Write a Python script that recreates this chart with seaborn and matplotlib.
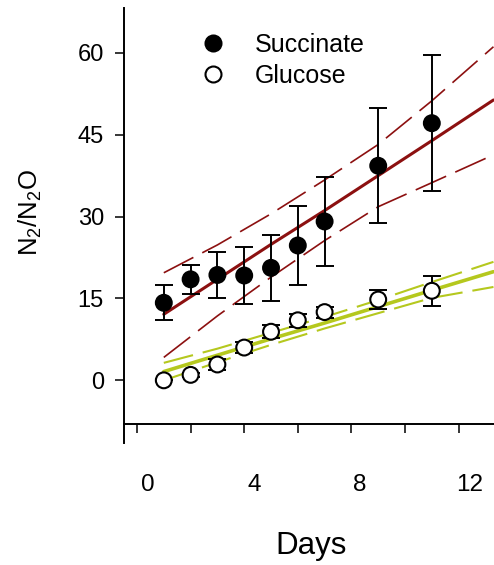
import numpy as np
import pandas as pd
import matplotlib
matplotlib.use("Agg")
import matplotlib.pyplot as plt
from matplotlib.lines import Line2D
import seaborn as sns

# ---- data ----
days = [1, 2, 3, 4, 5, 6, 7, 9, 11]
succinate = [14.2, 18.5, 19.3, 19.2, 20.6, 24.7, 29.1, 39.3, 47.1]
succinate_err = [3.2, 2.7, 4.2, 5.3, 6.1, 7.3, 8.2, 10.5, 12.4]
glucose = [0.0, 1.0, 2.9, 6.0, 8.9, 11.0, 12.5, 14.8, 16.4]
glucose_err = [0.0, 0.3, 1.0, 1.0, 1.2, 1.2, 1.0, 1.8, 2.8]

fit_days = [1, 3, 5, 7, 9, 11, 13.3]
succ_fit = [12.1, 18.5, 24.9, 31.1, 37.5, 43.9, 51.35]
succ_upper = [19.7, 24.8, 30.5, 36.7, 43.2, 51.2, 61.1]
succ_lower = [4.2, 11.8, 18.9, 25.6, 31.8, 36.2, 41.3]
gluc_fit = [1.6, 4.6, 7.6, 10.5, 13.5, 16.5, 19.9]
gluc_upper = [3.2, 5.8, 8.7, 11.6, 14.7, 18.0, 21.7]
gluc_lower = [0.0, 3.3, 6.5, 9.5, 12.3, 15.1, 17.1]

series_labels = ["Succinate", "Glucose"]
y_ticks = [0, 15, 30, 45, 60]
x_major_ticks = [0, 2, 4, 6, 8, 10, 12]
x_tick_labels = ["0", "4", "8", "12"]
x_label_pos = [0.41, 4.36, 8.31, 12.41]

RED = "#8c1010"
GREEN = "#b5c81e"

sns.set_theme(style="white")
plt.rcParams["font.family"] = ["Liberation Sans", "DejaVu Sans"]
plt.rcParams["mathtext.fontset"] = "custom"
plt.rcParams["mathtext.rm"] = "Liberation Sans"
for k in ["text.color", "axes.labelcolor", "xtick.color", "ytick.color", "axes.edgecolor"]:
    plt.rcParams[k] = "black"

W, H = 494, 565
fig = plt.figure(figsize=(W / 100, H / 100), dpi=100)
ax = fig.add_axes([124 / W, 1 - 424 / H, 370 / W, 416 / H])
ax.set_facecolor("white")

# regression lines and bands
fits = pd.DataFrame({"day": fit_days, "succ": succ_fit, "su": succ_upper, "sl": succ_lower,
                     "gluc": gluc_fit, "gu": gluc_upper, "gl": gluc_lower})
for col, color, lw in [("succ", RED, 2.2), ("gluc", GREEN, 2.6)]:
    sns.lineplot(data=fits, x="day", y=col, color=color, lw=lw, ax=ax, zorder=2)
for col, color, lw, dash in [("su", RED, 1.2, (20, 6)), ("sl", RED, 1.2, (20, 6)),
                             ("gu", GREEN, 1.5, (14.5, 4.8)), ("gl", GREEN, 1.5, (14.5, 4.8))]:
    sns.lineplot(data=fits, x="day", y=col, color=color, lw=lw, ax=ax, zorder=2)
    ax.lines[-1].set_dashes(dash)

# error bars
ax.errorbar(days, succinate, yerr=succinate_err, fmt="none", ecolor="black",
            elinewidth=1.4, capsize=6.8, capthick=1.4, zorder=3)
ax.errorbar(days, glucose, yerr=glucose_err, fmt="none", ecolor="black",
            elinewidth=1.4, capsize=6.8, capthick=1.4, zorder=3)

pts = pd.DataFrame({"day": days * 2, "ratio": succinate + glucose,
                    "substrate": [series_labels[0]] * len(days) + [series_labels[1]] * len(days)})
sns.scatterplot(data=pts, x="day", y="ratio", hue="substrate",
                palette={series_labels[0]: "black", series_labels[1]: "white"},
                edgecolor="black", linewidth=1.5, s=130, legend=False, ax=ax, zorder=4)

ax.set_xlim(-0.485, 13.32)
ax.set_ylim(-8.0, 68.2)
ax.set_xlabel("")
ax.set_ylabel("")

for s in ["top", "right"]:
    ax.spines[s].set_visible(False)
for s in ["left", "bottom"]:
    ax.spines[s].set_color("black")
    ax.spines[s].set_linewidth(1.4)
ax.spines["left"].set_bounds(-11.5, 68.2)

ax.set_yticks(y_ticks)
ax.set_yticklabels([str(v) for v in y_ticks])
ax.tick_params(axis="y", which="major", direction="out", length=6.5, width=1.1,
               labelsize=17, pad=8, color="black", labelcolor="black", left=True)
ax.set_xticks(x_major_ticks)
ax.set_xticklabels([""] * len(x_major_ticks))
ax.tick_params(axis="x", which="major", direction="out", length=6.5, width=1.1,
               color="black", bottom=True)
ax.set_xticks(x_label_pos, minor=True)
ax.set_xticklabels(x_tick_labels, minor=True)
ax.tick_params(axis="x", which="minor", length=0, labelsize=17.5, pad=36,
               labelcolor="black")

fig.text(311 / W, 1 - 554 / H, "Days", fontsize=22.5, ha="center", va="baseline",
         color="black")
fig.text(30 / W, 1 - 212.5 / H, r"N$_2$/N$_2$O", fontsize=18.5, rotation=90,
         ha="center", va="center", color="black")

handles = [Line2D([], [], marker="o", ls="none", markerfacecolor="black",
                  markeredgecolor="black", markersize=11.5, markeredgewidth=1.5),
           Line2D([], [], marker="o", ls="none", markerfacecolor="white",
                  markeredgecolor="black", markersize=11.5, markeredgewidth=1.5)]
leg = fig.legend(handles, series_labels, loc="upper left",
                 bbox_to_anchor=(200.5 / W, 1 - 33 / H), frameon=False, fontsize=18,
                 handlelength=1.0, handletextpad=1.18, labelspacing=0.28,
                 borderpad=0, borderaxespad=0)
for t in leg.get_texts():
    t.set_color("black")

fig.savefig("out.png", dpi=100, facecolor="white")
